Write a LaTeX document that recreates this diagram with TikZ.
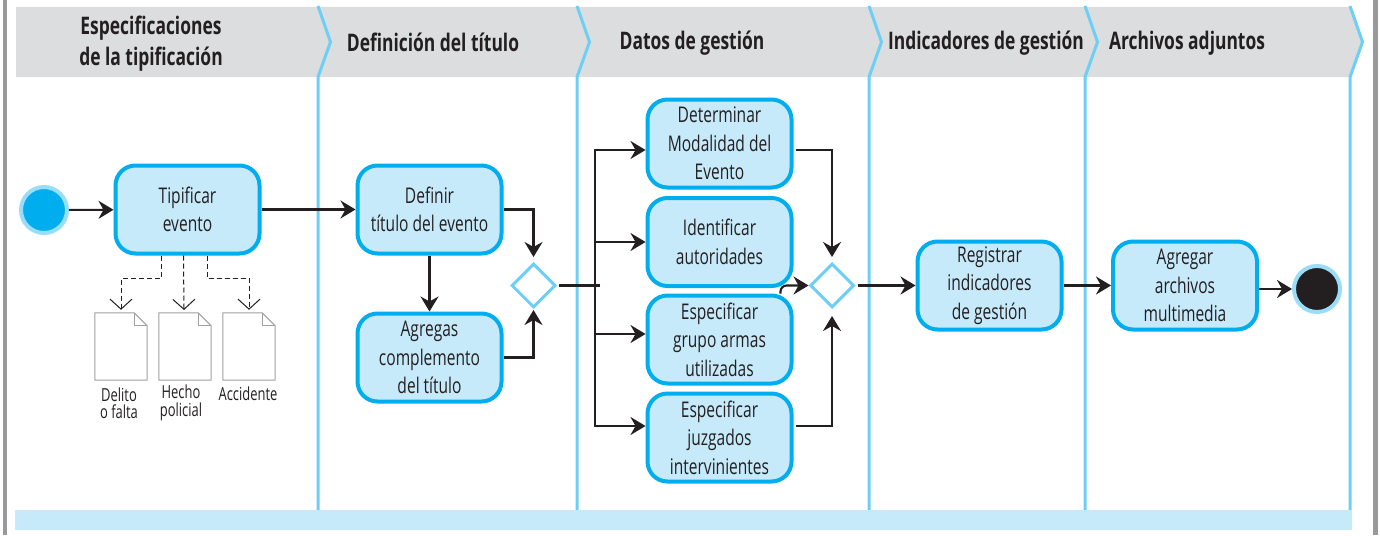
\documentclass[tikz,border=0pt]{standalone}
\usepackage{fontspec}
\setmainfont[FakeStretch=0.72]{Open Sans}
\usetikzlibrary{
  arrows.meta,
  shapes.geometric
}
\definecolor{lanecol}{HTML}{6DCFF6}
\definecolor{boxcol}{HTML}{00AEEF}
\definecolor{paleblue}{HTML}{C7EAFB}
\definecolor{headcol}{HTML}{DCDDDE}
\definecolor{sidecol}{HTML}{98989D}
\definecolor{inkcol}{HTML}{231F20}
\definecolor{doccol}{HTML}{A0A0A3}

\begin{document}
\begin{tikzpicture}[
  x=1pt, y=-1pt,
  header/.style = {align=center, inner sep=0pt, text=inkcol,
    font=\fontsize{24.2}{31}\selectfont\bfseries},
  activity/.style = {shape=rectangle, rounded corners=20pt, draw=boxcol,
    line width=4pt, fill=paleblue, align=center, text=inkcol, inner sep=0pt,
    minimum width=144pt, minimum height=88pt,
    font=\fontsize{21.6}{28.5}\selectfont},
  gateway/.style = {shape=diamond, aspect=1, draw=lanecol, line width=3pt,
    fill=white, inner sep=0pt, minimum width=44pt, minimum height=44pt},
  terminal/.style = {shape=circle, draw=lanecol!70, line width=4pt,
    inner sep=0pt, minimum size=46pt},
  docnode/.style = {shape=rectangle, inner sep=0pt, minimum width=52pt,
    minimum height=67pt},
  doclabel/.style = {align=center, inner sep=0pt, text=inkcol,
    font=\fontsize{18}{17.5}\selectfont},
  flow/.style = {draw=inkcol, line width=2.1pt,
    -{Stealth[length=15pt,width=18pt,inset=5pt]}},
  plainflow/.style = {draw=inkcol, line width=2.1pt},
  reference/.style = {draw=inkcol, line width=1pt, dash pattern=on 5pt off 3pt,
    -{Straight Barb[length=10pt,width=22pt,line width=1pt]}}]
  \useasboundingbox (0,0) rectangle (1380,535);
  \fill[sidecol] (3,0) rectangle (7,535);
  \fill[sidecol] (1373,0) rectangle (1378,535);
  \fill[headcol] (16,7) -- (1350,7) -- (1362,42) -- (1350,77) -- (16,77) -- cycle;
  \foreach \xpos in {318,577,869,1085,1350}
    \draw[lanecol, line width=3pt] (\xpos,6) -- (\xpos+12.5,42) -- (\xpos,77) -- (\xpos,511);
  \fill[paleblue] (15,510) rectangle (1352,530);

  \node[header] (headA) at (151,44) {Especificaciones\\de la tipificación};
  \node[header] (headB) at (433,42) {Definición del título};
  \node[header] (headC) at (692,43) {Datos de gestión};
  \node[header] (headD) at (986,43) {Indicadores de gestión};
  \node[header] (headE) at (1187,43) {Archivos adjuntos};

  \node[terminal, fill=boxcol] (start) at (44,210) {};
  \node[activity] (tipificar) at (187.5,209.5) {Tipificar\\evento};
  \node[activity] (definir) at (429.5,209.5) {Definir\\título del evento};
  \node[activity] (agregas) at (429.5,357.5) {Agregas\\complemento\\del título};
  \node[gateway] (splitA) at (533.5,285.5) {};
  \node[activity] (determinar) at (719.5,143.5) {Determinar\\Modalidad del\\Evento};
  \node[activity] (identificar) at (719.5,242) {Identificar\\autoridades};
  \node[activity] (grupo) at (719.5,339.5) {Especificar\\grupo armas\\utilizadas};
  \node[activity] (juzgados) at (719.5,437.5) {Especificar\\juzgados\\intervinientes};
  \node[gateway] (splitB) at (832,285.5) {};
  \node[activity] (registrar) at (989.5,285.5) {Registrar\\indicadores\\de gestión};
  \node[activity] (adjuntos) at (1185,285.5) {Agregar\\archivos\\multimedia};
  \node[terminal, fill=inkcol] (end) at (1317,289) {};

  \foreach \name/\xpos in {docA/121,docB/185,docC/249} {
    \node[docnode] (\name) at (\xpos,346.5) {};
    \draw[doccol, line width=1pt] (\name.north west) -- ([xshift=-13pt]\name.north east)
      -- ([yshift=-13pt]\name.north east) -- (\name.south east) -- (\name.south west) -- cycle;
    \draw[doccol, line width=1pt] ([xshift=-13pt]\name.north east)
      -- ([xshift=-13pt,yshift=-13pt]\name.north east) -- ([yshift=-13pt]\name.north east);
  }
  \node[doclabel] (labelA) at (119,403) {Delito\\o falta};
  \node[doclabel] (labelB) at (181,403) {Hecho\\policial};
  \node[doclabel] (labelC) at (248,394) {Accidente};

  \draw[flow] (start) -- (tipificar);
  \draw[flow] (tipificar) -- (definir);
  \draw[flow] (definir) -- (agregas);
  \draw[flow, shorten >=5pt] (definir.east) -| (splitA.north);
  \draw[flow, shorten >=1pt] (agregas.east) -| (splitA.south);
  \coordinate (bus) at (595,285.5);
  \coordinate (busend) at (600,285.5);
  \draw[plainflow, shorten <=2pt] (splitA.east) -- (busend);
  \foreach \name/\shift in {determinar/-6.5,identificar/0,grupo/5.5,juzgados/11.5}
    \draw[flow] (bus) |- ([yshift=\shift pt]\name.west);
  \draw[flow, shorten <=2pt, shorten >=5pt] ([yshift=-6.5pt]determinar.east) -| (splitB.north);
  \draw[flow, shorten <=2pt, shorten >=7pt] ([yshift=11.5pt]juzgados.east) -| (splitB.south);
  \draw[flow, rounded corners=6pt] ([xshift=61pt]grupo.north) |- (splitB.west);
  \draw[flow, shorten <=2pt] (splitB.east) -- (registrar);
  \draw[flow] (registrar) -- (adjuntos);
  \draw[flow] (adjuntos.east |- end) -- (end);

  \coordinate (refA) at (161,278);
  \coordinate (refB) at (184,313);
  \coordinate (refC) at (207,278);
  \draw[reference, shorten >=3pt] ([xshift=-26.5pt]tipificar.south) -- (refA) -| (docA.north);
  \draw[reference, shorten >=3pt] ([xshift=-4pt]tipificar.south) -- (refB);
  \draw[reference, shorten >=3pt] ([xshift=19.5pt]tipificar.south) -- (refC) -| (docC.north);
\end{tikzpicture}
\end{document}
